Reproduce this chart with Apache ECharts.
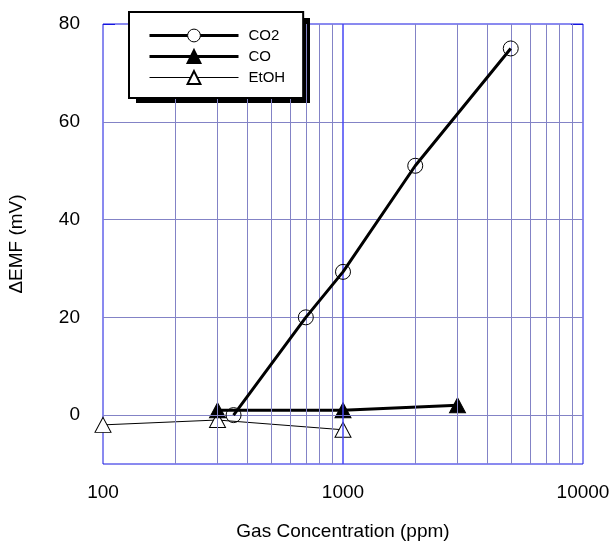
<!DOCTYPE html>
<html>
<head>
<meta charset="utf-8">
<script src="https://cdn.jsdelivr.net/npm/echarts@6/dist/echarts.min.js"></script>
<style>
    html, body { margin: 0; padding: 0; background: #fff; }
    #chart { width: 616px; height: 542px; }
</style>
</head>
<body>
<div id="chart"></div>
<script>
// data
const co2Conc = [350, 700, 1000, 2000, 5000]
const co2Emf = [0, 20, 29.3, 51, 75]
const coConc = [300, 1000, 3000]
const coEmf = [1, 1, 2]
const etohConc = [100, 300, 1000]
const etohEmf = [-2, -1, -3]
const yTicks = [0, 20, 40, 60, 80]
const yGrid = [0, 20, 40, 60]
const xMinorGrid = [200, 300, 400, 500, 600, 700, 800, 900, 2000, 3000, 4000, 5000, 6000, 7000, 8000, 9000]
const xMajorGrid = [1000]

const pair = (xs, ys) => xs.map((x, i) => [x, ys[i]])

const minorColor = '#8383c6'
const majorColor = '#4646f4'
const frameColor = '#1515e0'
const font = 'Liberation Sans, Arial, sans-serif'

const myChart = echarts.init(document.getElementById('chart'))

const option = {
    animation: false,
    grid: {
        left: 103, right: 33, top: 24, bottom: 78,
        outerBoundsMode: 'none',
        containLabel: false,
        show: true,
        borderColor: frameColor,
        borderWidth: 1
    },
    // drop shadow behind the legend box
    graphic: [{
        type: 'rect',
        z: 5,
        shape: { x: 136, y: 18, width: 174, height: 85 },
        style: { fill: '#000' }
    }],
    legend: {
        z: 10,
        orient: 'vertical',
        left: 129, top: 12,
        padding: [16, 18, 13, 19],
        itemWidth: 89, itemHeight: 16, itemGap: 6,
        backgroundColor: '#fff',
        borderColor: '#000', borderWidth: 2,
        textStyle: { fontFamily: font, fontSize: 15, color: '#000', padding: [0, 0, 0, 5] },
        data: [
            { name: 'CO2', itemStyle: { color: '#fff', borderColor: '#000', borderWidth: 1 }, lineStyle: { width: 3, color: '#000' } },
            { name: 'CO', lineStyle: { width: 3, color: '#000' } },
            { name: 'EtOH', lineStyle: { width: 1, color: '#000' } }
        ]
    },
    xAxis: {
        type: 'log',
        logBase: 10,
        min: 100, max: 10000,
        name: 'Gas Concentration (ppm)',
        nameLocation: 'middle',
        nameGap: 58,
        nameTextStyle: { fontFamily: font, fontSize: 19, color: '#000' },
        axisLine: { show: false },
        axisTick: { show: false },
        axisLabel: { fontFamily: font, fontSize: 19, color: '#000', margin: 19, formatter: v => String(v) },
        splitLine: { show: false },
        minorTick: { show: false },
        minorSplitLine: { show: false }
    },
    yAxis: [
        {
            type: 'value',
            min: -10, max: 80,
            name: 'ΔEMF (mV)',
            nameLocation: 'middle',
            nameGap: 77,
            nameTextStyle: { fontFamily: font, fontSize: 19, color: '#000' },
            axisLine: { show: false },
            axisTick: { show: true, inside: true, length: 12, customValues: yTicks, lineStyle: { color: frameColor } },
            axisLabel: { fontFamily: font, fontSize: 19, color: '#000', margin: 23, customValues: yTicks },
            splitLine: { show: false }
        },
        {
            type: 'value',
            min: -10, max: 80,
            position: 'right',
            axisLine: { show: false },
            axisTick: { show: true, inside: true, length: 12, customValues: yTicks, lineStyle: { color: frameColor } },
            axisLabel: { show: false },
            splitLine: { show: false }
        }
    ],
    series: [
        {
            name: 'grid',
            type: 'line',
            data: [],
            silent: true,
            z: 1,
            markLine: {
                silent: true,
                symbol: 'none',
                label: { show: false },
                lineStyle: { color: minorColor, width: 1, type: 'solid' },
                data: xMinorGrid.map(v => ({ xAxis: v }))
                    .concat(yGrid.map(v => ({ yAxis: v })))
                    .concat(xMajorGrid.map(v => ({ xAxis: v, lineStyle: { color: majorColor, width: 1.5 } })))
            }
        },
        {
            name: 'EtOH',
            type: 'line',
            z: 3,
            data: pair(etohConc, etohEmf),
            symbol: 'triangle',
            symbolSize: [16, 15],
            lineStyle: { color: '#000', width: 1 },
            itemStyle: { color: '#fff', borderColor: '#000', borderWidth: 1 }
        },
        {
            name: 'CO',
            type: 'line',
            z: 4,
            data: pair(coConc, coEmf),
            symbol: 'triangle',
            symbolSize: [16, 15],
            lineStyle: { color: '#000', width: 3 },
            itemStyle: { color: '#000', borderColor: '#000', borderWidth: 1 }
        },
        {
            name: 'CO2',
            type: 'line',
            z: 5,
            data: pair(co2Conc, co2Emf),
            symbol: 'circle',
            symbolSize: 15,
            lineStyle: { color: '#000', width: 3 },
            itemStyle: { color: 'rgba(255,255,255,0)', borderColor: '#000', borderWidth: 1 }
        }
    ]
}

myChart.setOption(option)
</script>
</body>
</html>
